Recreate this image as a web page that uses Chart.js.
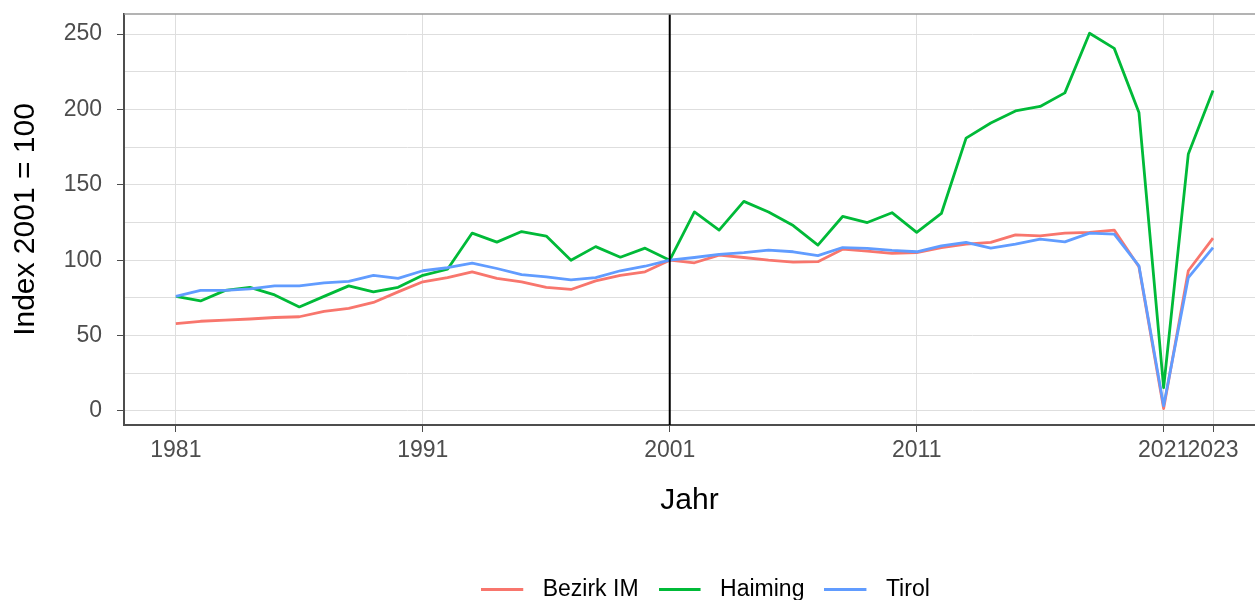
<!DOCTYPE html>
<html>
<head>
<meta charset="utf-8">
<script src="https://cdn.jsdelivr.net/npm/chart.js@4.4.1/dist/chart.umd.min.js"></script>
<style>
  html, body { margin: 0; padding: 0; background: #fff; }
  #wrap { width: 1255px; height: 600px; }
</style>
</head>
<body>
<div id="wrap"><canvas id="chart" width="1255" height="600"></canvas></div>
<script>
/* ---------- data: index 2001 = 100 ---------- */
var years = [1981, 1982, 1983, 1984, 1985, 1986, 1987, 1988, 1989, 1990,
             1991, 1992, 1993, 1994, 1995, 1996, 1997, 1998, 1999, 2000,
             2001, 2002, 2003, 2004, 2005, 2006, 2007, 2008, 2009, 2010,
             2011, 2012, 2013, 2014, 2015, 2016, 2017, 2018, 2019, 2020,
             2021, 2022, 2023];
var bezirkIM = [58, 59.5, 60.3, 61, 62, 62.5, 66, 68, 72, 79,
                85.7, 88.5, 92.3, 88, 85.7, 82, 80.6, 86.3, 90, 92.3,
                100, 98.3, 103.4, 101.8, 100, 98.7, 99, 107.3, 106, 104.5,
                105, 108.4, 110.6, 111.8, 116.8, 116.2, 118, 118.4, 120, 95.6,
                1.6, 93, 114.6];
var haiming = [76, 73, 80, 82, 77, 69, 76, 83, 79, 82,
               90, 94, 118, 112, 119, 116, 100, 109, 102, 108,
               100, 132, 120, 139, 132, 123, 110, 129, 125, 131.5,
               118.5, 131, 181, 191, 199, 202, 211, 250.5, 240.5, 198,
               15.5, 170.5, 212.5];
var tirol = [76, 80, 80, 81, 83, 83, 85, 86, 90, 88,
             93, 95, 98, 94.5, 90.5, 89, 87, 88.5, 93, 96,
             100, 101.8, 103.8, 105, 106.7, 105.6, 103, 108.4, 107.8, 106.5,
             105.6, 109.5, 111.8, 108, 110.6, 114, 112.2, 118, 117.3, 96.3,
             3.4, 88.5, 108.4];
var seriesNames = ['Bezirk IM', 'Haiming', 'Tirol'];
var xTicks = [1981, 1991, 2001, 2011, 2021, 2023];
var yTicks = [0, 25, 50, 75, 100, 125, 150, 175, 200, 225, 250];
var baseYear = 2001;

/* ---------- look ---------- */
var FONT = "'Liberation Sans', Arial, sans-serif";
var COLORS = ['#F8766D', '#00BA38', '#619CFF'];
var TICK_GREY = '#4d4d4d';
var GRID = '#dedede';
var LEGEND_DX = 78, LEGEND_DY = 11;   /* legend sits right of centre, like the original */

function pairs(vals) {
  return years.map(function (y, i) { return { x: y, y: vals[i] }; });
}

/* legend key: a short line sample, with a gap before the text */
function legendMark(color) {
  var c = document.createElement('canvas');
  c.width = 50; c.height = 3;
  var g = c.getContext('2d');
  g.fillStyle = color;
  g.fillRect(0, 0, 42, 3);
  return c;
}

function line(label, vals, color, order) {
  return {
    label: label,
    data: pairs(vals),
    borderColor: color,
    backgroundColor: color,
    borderWidth: 2.8,
    borderJoinStyle: 'round',
    pointRadius: 0,
    pointHoverRadius: 0,
    pointStyle: legendMark(color),
    tension: 0,
    order: order   /* blue drawn last, on top */
  };
}

/* base-year marker and the panel's top edge */
var panelExtras = {
  id: 'panelExtras',
  afterLayout: function (chart) {
    var lg = chart.legend;
    if (!lg) return;
    lg.left += LEGEND_DX; lg.right += LEGEND_DX;
    lg.top += LEGEND_DY; lg.bottom += LEGEND_DY;
  },
  afterDatasetsDraw: function (chart) {
    var a = chart.chartArea, ctx = chart.ctx;
    var x = chart.scales.x.getPixelForValue(baseYear);
    ctx.save();
    ctx.strokeStyle = '#000';
    ctx.lineWidth = 2;
    ctx.beginPath();
    ctx.moveTo(x, a.top);
    ctx.lineTo(x, a.bottom);
    ctx.stroke();
    ctx.strokeStyle = '#9a9a9a';
    ctx.lineWidth = 1.5;
    ctx.beginPath();
    ctx.moveTo(a.left, a.top);
    ctx.lineTo(a.right, a.top);
    ctx.stroke();
    ctx.restore();
  }
};

new Chart(document.getElementById('chart'), {
  type: 'line',
  data: {
    datasets: [
      line(seriesNames[0], bezirkIM, COLORS[0], 2),
      line(seriesNames[1], haiming, COLORS[1], 1),
      line(seriesNames[2], tirol, COLORS[2], 0)
    ]
  },
  plugins: [panelExtras],
  options: {
    responsive: false,
    animation: false,
    events: [],
    layout: { padding: { top: 14, left: 0, right: 0, bottom: 0 } },
    plugins: {
      tooltip: { enabled: false },
      legend: {
        position: 'bottom',
        labels: {
          usePointStyle: true,
          pointStyleWidth: 50,
          boxHeight: 23,
          padding: 20,
          color: '#000',
          font: { family: FONT, size: 23 },
          sort: function (a, b) { return a.datasetIndex - b.datasetIndex; }
        }
      }
    },
    scales: {
      x: {
        type: 'linear',
        min: 1978.9,
        max: 2024.7,
        afterBuildTicks: function (s) { s.ticks = xTicks.map(function (v) { return { value: v }; }); },
        afterFit: function (s) { s.height = 122; s.paddingLeft = 0; s.paddingRight = 0; },
        ticks: {
          autoSkip: false, maxRotation: 0, minRotation: 0,
          padding: 5, color: TICK_GREY,
          font: { family: FONT, size: 23 },
          callback: function (v) { return String(v); }
        },
        grid: { color: GRID, lineWidth: 1, tickColor: TICK_GREY, tickLength: 7 },
        border: { color: TICK_GREY, width: 2 },
        title: {
          display: true, text: 'Jahr', color: '#000',
          font: { family: FONT, size: 30 },
          padding: { top: 0, bottom: 28 }
        }
      },
      y: {
        min: -9.3,
        max: 263.3,
        afterBuildTicks: function (s) { s.ticks = yTicks.map(function (v) { return { value: v }; }); },
        afterFit: function (s) { s.width = 124; s.paddingTop = 0; s.paddingBottom = 0; },
        ticks: {
          padding: 15, color: TICK_GREY,
          font: { family: FONT, size: 23 },
          callback: function (v) { return v % 50 === 0 ? String(v) : ''; }
        },
        grid: {
          color: GRID, lineWidth: 1, tickLength: 7,
          tickColor: function (c) { return c.tick && c.tick.value % 50 === 0 ? TICK_GREY : 'rgba(0,0,0,0)'; }
        },
        border: { color: TICK_GREY, width: 2 },
        title: {
          display: true, text: 'Index 2001 = 100', color: '#000',
          font: { family: FONT, size: 30 },
          padding: { top: 8, bottom: 0 }
        }
      }
    }
  }
});
</script>
</body>
</html>
